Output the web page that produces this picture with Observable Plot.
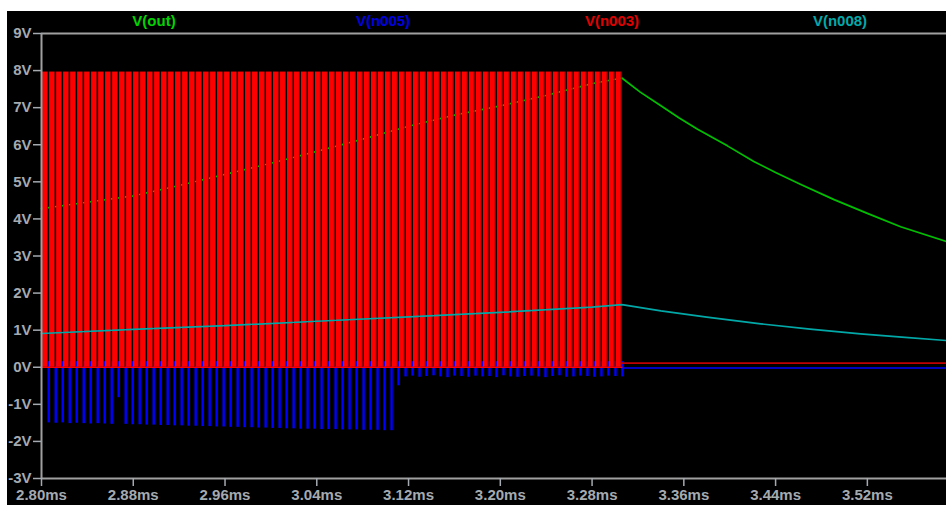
<!DOCTYPE html>
<html>
<head>
<meta charset="utf-8">
<script src="https://cdn.jsdelivr.net/npm/d3@7"></script>
<script src="https://cdn.jsdelivr.net/npm/@observablehq/plot@0.6"></script>
<style>
  html, body { margin: 0; padding: 0; background: #fff; width: 946px; height: 505px; overflow: hidden; }
  #panel { position: absolute; left: 7px; top: 11px; width: 939px; height: 494px; background: #000; overflow: hidden; }
  #panel svg { position: absolute; left: 0; top: 0; }
  .trace { position: absolute; top: 1px; font: bold 15px "Liberation Sans", Arial, sans-serif; transform: translateX(-50%); white-space: nowrap; z-index: 2; }
</style>
</head>
<body>
<div id="panel">
  <div class="trace" style="left:147px;color:#00d400">V(out)</div>
  <div class="trace" style="left:376px;color:#0000e0">V(n005)</div>
  <div class="trace" style="left:605px;color:#e00000">V(n003)</div>
  <div class="trace" style="left:833px;color:#00aaaa">V(n008)</div>
</div>
<script>
// Axis ticks
const timeTicks = [2.80, 2.88, 2.96, 3.04, 3.12, 3.20, 3.28, 3.36, 3.44, 3.52];
const voltTicks = [-3, -2, -1, 0, 1, 2, 3, 4, 5, 6, 7, 8, 9];

// V(out): output voltage, time in ms
const outTime  = [2.800, 2.840, 2.880, 2.920, 2.960, 3.000, 3.040, 3.080, 3.120, 3.160, 3.200, 3.240, 3.280, 3.306,
                  3.322, 3.340, 3.356, 3.372, 3.398, 3.421, 3.440, 3.462, 3.491, 3.520, 3.549, 3.589];
const outVolts = [4.28, 4.45, 4.62, 4.90, 5.20, 5.50, 5.82, 6.15, 6.50, 6.80, 7.05, 7.33, 7.65, 7.80,
                  7.42, 7.05, 6.72, 6.42, 5.97, 5.55, 5.25, 4.93, 4.52, 4.15, 3.79, 3.39];

// V(n008)
const n008Time  = [2.800, 2.880, 2.960, 3.040, 3.120, 3.200, 3.280, 3.306, 3.340, 3.380, 3.427, 3.470, 3.514, 3.550, 3.589];
const n008Volts = [0.91, 1.02, 1.12, 1.24, 1.36, 1.48, 1.62, 1.69, 1.52, 1.35, 1.17, 1.03, 0.90, 0.81, 0.72];

// V(n003): switching pulses (start of each high interval, ms)
const pulseStart = [
  2.8010, 2.8071, 2.8132, 2.8193, 2.8254, 2.8315, 2.8376, 2.8437, 2.8498, 2.8559,
  2.8620, 2.8681, 2.8742, 2.8803, 2.8864, 2.8925, 2.8986, 2.9047, 2.9108, 2.9169,
  2.9230, 2.9291, 2.9352, 2.9413, 2.9474, 2.9535, 2.9596, 2.9657, 2.9718, 2.9779,
  2.9840, 2.9901, 2.9962, 3.0023, 3.0084, 3.0145, 3.0206, 3.0267, 3.0328, 3.0389,
  3.0450, 3.0511, 3.0572, 3.0633, 3.0694, 3.0755, 3.0816, 3.0877, 3.0938, 3.0999,
  3.1060, 3.1121, 3.1182, 3.1243, 3.1304, 3.1365, 3.1426, 3.1487, 3.1548, 3.1609,
  3.1670, 3.1731, 3.1792, 3.1853, 3.1914, 3.1975, 3.2036, 3.2097, 3.2158, 3.2219,
  3.2280, 3.2341, 3.2402, 3.2463, 3.2524, 3.2585, 3.2646, 3.2707, 3.2768, 3.2829,
  3.2890, 3.2951, 3.3012
];
const pulseHigh = 7.96;
const pulseOn = 0.0043;     // bright part of each pulse, ms
const pulseEdge = 0.0008;   // falling edge, ms
const switchEnd = 3.306;
const n003Rest = 0.11;

// V(n005): negative excursion of each switching cycle
const n005Low = [
  -1.50, -1.51, -1.50, -1.52, -1.51, -1.52, -1.53, -1.52, -1.53, -1.54,
  -0.82, -1.54, -1.55, -1.55, -1.56, -1.56, -1.57, -1.57, -1.58, -1.58,
  -1.59, -1.59, -1.60, -1.60, -1.61, -1.61, -1.62, -1.62, -1.63, -1.63,
  -1.64, -1.64, -1.65, -1.65, -1.66, -1.66, -1.67, -1.67, -1.67, -1.68,
  -1.68, -1.68, -1.69, -1.69, -1.69, -1.70, -1.70, -1.70, -1.71, -1.71,
  -0.50, -0.26, -0.24, -0.27, -0.25, -0.23, -0.26, -0.28, -0.24, -0.25,
  -0.27, -0.24, -0.26, -0.25, -0.28, -0.23, -0.26, -0.27, -0.25, -0.24,
  -0.26, -0.28, -0.25, -0.23, -0.27, -0.26, -0.24, -0.25, -0.27, -0.26,
  -0.24, -0.25, -0.26
];
const n005Top = 0.15;
const n005Rest = -0.02;

const xEnd = 3.589;

const outData = outTime.map((t, i) => ({t, v: outVolts[i]}));
const n008Data = n008Time.map((t, i) => ({t, v: n008Volts[i]}));
const pulses = pulseStart.map((t, i) => ({t, low: n005Low[i]}));

const plot = Plot.plot({
  width: 939,
  height: 494,
  marginLeft: 34,
  marginRight: 0,
  marginTop: 22,
  marginBottom: 27,
  style: {
    background: "transparent",
    color: "#a4aab0",
    fontFamily: "'Liberation Sans', Arial, sans-serif",
    fontSize: "15px",
    fontWeight: "bold"
  },
  x: {domain: [2.80, xEnd]},
  y: {domain: [-3, 9]},
  marks: [
    // V(out)
    Plot.line(outData, {x: "t", y: "v", stroke: "#00c000", strokeWidth: 1.7}),
    // V(n005)
    Plot.ruleX(pulses, {x: d => d.t + pulseOn + pulseEdge + 0.0002, y1: n005Top, y2: "low", stroke: "#0000ff", strokeWidth: 2.4}),
    Plot.line([{t: switchEnd, v: n005Rest}, {t: xEnd, v: n005Rest}], {x: "t", y: "v", stroke: "#0000ff", strokeWidth: 1.5}),
    // V(n003)
    Plot.line([{t: 2.80, v: 0}, {t: switchEnd, v: 0}], {x: "t", y: "v", stroke: "#ff0000", strokeWidth: 1.5}),
    Plot.rect(pulses, {x1: "t", x2: d => d.t + pulseOn, y1: 0, y2: pulseHigh, fill: "#ff0000"}),
    Plot.rect(pulses, {x1: d => d.t + pulseOn, x2: d => d.t + pulseOn + pulseEdge, y1: 0, y2: pulseHigh, fill: "#a00000"}),
    Plot.line([{t: switchEnd, v: n003Rest}, {t: xEnd, v: n003Rest}], {x: "t", y: "v", stroke: "#c00000", strokeWidth: 1.7}),
    // V(n008)
    Plot.line(n008Data, {x: "t", y: "v", stroke: "#00a8a8", strokeWidth: 1.7}),
    // frame
    Plot.ruleX([2.80], {stroke: "#a0a0a0", strokeWidth: 2}),
    Plot.ruleY([9, -3], {stroke: "#a0a0a0", strokeWidth: 2}),
    Plot.axisY({ticks: voltTicks, tickFormat: d => `${d}V`, tickSize: 8, tickPadding: 2, strokeWidth: 1.5, label: null}),
    Plot.axisX({ticks: timeTicks, tickFormat: d => `${d.toFixed(2)}ms`, tickSize: 8, tickPadding: 3, strokeWidth: 1.5, label: null})
  ]
});
document.getElementById("panel").appendChild(plot);
</script>
</body>
</html>
